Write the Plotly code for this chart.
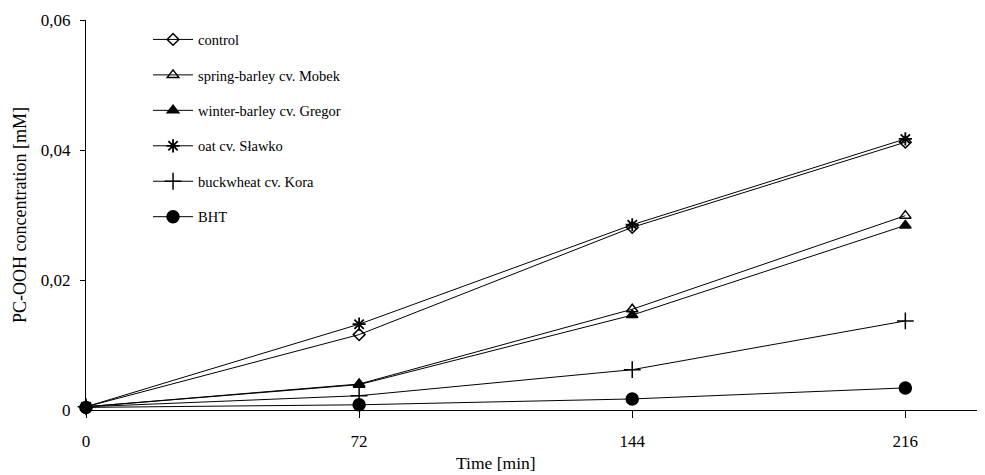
import plotly.graph_objects as go

time_min = [0, 72, 144, 216]
control = [0.0005, 0.0116, 0.0281, 0.0412]
spring_barley = [0.0005, 0.0040, 0.0155, 0.0299]
winter_barley = [0.0005, 0.0039, 0.0146, 0.0284]
oat = [0.0005, 0.0132, 0.0285, 0.0417]
buckwheat = [0.0005, 0.0022, 0.0062, 0.0137]
bht = [0.0004, 0.0008, 0.0017, 0.0034]

names = ["control", "spring-barley cv. Mobek", "winter-barley cv. Gregor",
         "oat cv. Sławko", "buckwheat cv. Kora", "BHT"]
series = [control, spring_barley, winter_barley, oat, buckwheat, bht]
symbols = ["diamond-open", "triangle-up-open", "triangle-up", "asterisk-open",
           "cross-thin-open", "circle"]
sizes = [9, 10, 10, 11, 12, 12]

x_ticks = [0, 72, 144, 216]
y_ticks = [0, 0.02, 0.04, 0.06]
y_ticklabels = ["0", "0,02", "0,04", "0,06"]
x_title = "Time [min]"
y_title = "PC-OOH concentration [mM]"

fig = go.Figure()
for i, (n, s, sym, sz) in enumerate(zip(names, series, symbols, sizes)):
    fig.add_trace(go.Scatter(
        x=time_min, y=s, name=n, mode="lines+markers",
        legendgroup=f"g{i}",
        line=dict(color="black", width=1),
        marker=dict(symbol=sym, size=sz, color="black",
                    line=dict(color="black", width=1.8 if sym == "asterisk-open" else 1.5)),
        cliponaxis=False,
    ))

font = "Liberation Serif, Times New Roman, serif"
# page body has an 8px default margin: figure is sized/offset to compensate
fig.update_layout(
    width=977, height=467,
    margin=dict(l=78, r=0, t=12, b=65),
    paper_bgcolor="white", plot_bgcolor="white",
    font=dict(family=font, size=14, color="black"),
    showlegend=True,
    legend=dict(x=0.069, y=0.991, xanchor="left", yanchor="top",
                bgcolor="rgba(0,0,0,0)", font=dict(size=14.5, family=font),
                tracegroupgap=13.6, itemwidth=40),
    xaxis=dict(range=[0, 237], tickvals=x_ticks, showgrid=False, zeroline=False,
               showline=True, linecolor="black", linewidth=1,
               ticks="outside", ticklen=7, tickcolor="black",
               ticklabelstandoff=9,
               automargin=False, tickfont=dict(size=17)),
    yaxis=dict(range=[0, 0.06], tickvals=y_ticks, ticktext=y_ticklabels,
               showgrid=False, zeroline=False,
               showline=True, linecolor="black", linewidth=1,
               ticks="outside", ticklen=5, tickcolor="black",
               ticklabelstandoff=6,
               automargin=False, tickfont=dict(size=17)),
    annotations=[
        dict(text=x_title, xref="x", yref="paper", x=108, y=-53 / 390,
             xanchor="center", yanchor="middle", showarrow=False,
             font=dict(size=17.5, family=font)),
        dict(text=y_title, xref="paper", yref="paper", x=-66 / 899, y=0.5,
             textangle=-90, xanchor="center", yanchor="middle", showarrow=False,
             font=dict(size=18, family=font)),
    ],
)

fig.write_html("out.html")
